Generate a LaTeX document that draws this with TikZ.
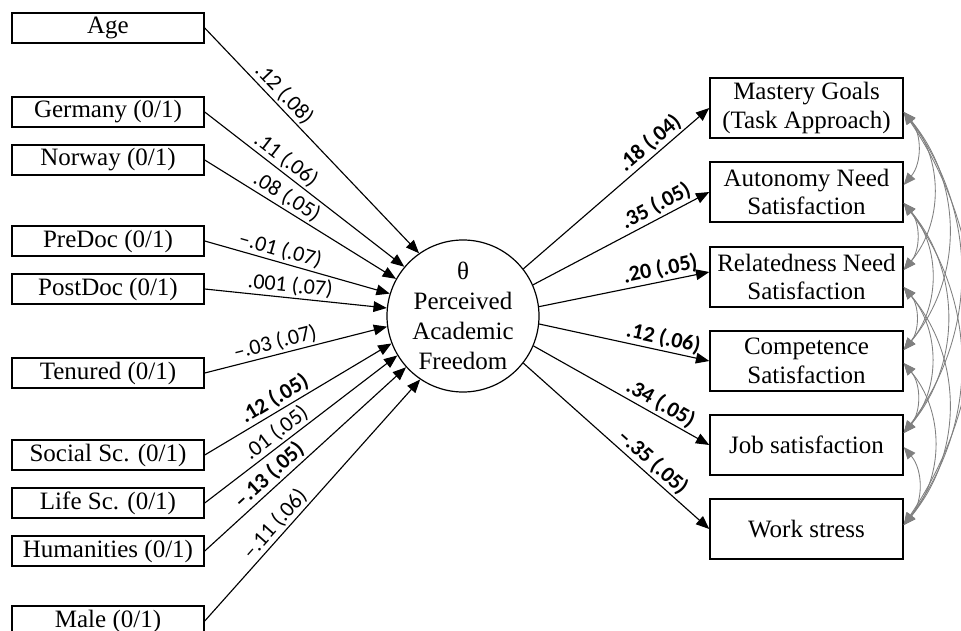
\documentclass[tikz,border=0pt]{standalone}
\usepackage{fontspec}
\setmainfont{Liberation Serif}
\newfontfamily\labfont{Carlito}
\usetikzlibrary{arrows.meta,calc}
\begin{document}
\begin{tikzpicture}[x=0.75pt,y=-0.75pt,
  lbox/.style={draw,line width=1.1pt,minimum width=144pt,minimum height=22.5pt,inner sep=0pt,font=\fontsize{18.75}{22}\selectfont},
  rbox/.style={draw,line width=1.1pt,minimum width=144.75pt,minimum height=45pt,inner sep=0pt,align=center,font=\fontsize{18.75}{21.5}\selectfont},
  lat/.style={draw,circle,line width=0.9pt,minimum size=114pt,inner sep=0pt,align=center,font=\fontsize{18.75}{22.5}\selectfont},
  reg/.style={line width=0.85pt,-{Triangle[length=10pt,width=8pt]}},
  cov/.style={draw=gray,line width=0.65pt,{Triangle[length=9pt,width=7.5pt]}-{Triangle[length=9pt,width=7.5pt]}},
  lab/.style={font=\labfont\fontsize{16.5}{18}\selectfont,sloped,above,inner sep=1.5pt},
  labb/.style={font=\labfont\bfseries\fontsize{16.5}{18}\selectfont,sloped,above,inner sep=1.5pt}
]
\useasboundingbox (0,0) rectangle (961,631);

% left boxes
\node[lbox] (age) at (108,28) {Age};
\node[lbox] (ger) at (108,112) {Germany (0/1)};
\node[lbox] (nor) at (108,160) {Norway (0/1)};
\node[lbox] (pre) at (108,241) {PreDoc (0/1)};
\node[lbox] (post) at (108,289) {PostDoc (0/1)};
\node[lbox] (ten) at (108,373) {Tenured (0/1)};
\node[lbox] (soc) at (108,455) {Social Sc. (0/1)};
\node[lbox] (life) at (108,503) {Life Sc. (0/1)};
\node[lbox] (hum) at (108,551) {Humanities (0/1)};
\node[lbox] (male) at (108,621) {Male (0/1)};

% latent
\node[lat] (c) at (463,316) {θ\\Perceived\\Academic\\Freedom};

% right boxes
\node[rbox] (r1) at (806.5,108) {Mastery Goals\\(Task Approach)};
\node[rbox] (r2) at (806.5,192) {Autonomy Need\\Satisfaction};
\node[rbox] (r3) at (806.5,277) {Relatedness Need\\Satisfaction};
\node[rbox] (r4) at (806.5,361) {Competence\\Satisfaction};
\node[rbox] (r5) at (806.5,445) {Job satisfaction};
\node[rbox] (r6) at (806.5,529) {Work stress};

% predictor paths
\draw[reg] (age.east) -- (c.125) node[lab,pos=0.33]{.12 (.08)};
\draw[reg] (ger.east) -- (c.140) node[lab,pos=0.371]{.11 (.06)};
\draw[reg] (nor.east) -- (c.151) node[lab,pos=0.397]{.08 (.05)};
\draw[reg] (pre.east) -- (c.163) node[lab,pos=0.391]{–.01 (.07)};
\draw[reg] (post.east) -- (c.174) node[lab,pos=0.463]{.001 (.07)};
\draw[reg] (ten.east) -- (c.188.5) node[lab,pos=0.402]{–.03 (.07)};
\draw[reg] (soc.east) -- (c.201) node[labb,pos=0.407]{.12 (.05)};
\draw[reg] (life.east) -- (c.211) node[lab,pos=0.409]{.01 (.05)};
\draw[reg] (hum.east) -- (c.222) node[labb,pos=0.361]{–.13 (.05)};
\draw[reg] (male.east) -- (c.236) node[lab,pos=0.367]{–.11 (.06)};

% outcome paths
\draw[reg] (c.38) -- (r1.west) node[labb,pos=0.723]{.18 (.04)};
\draw[reg] (c.24) -- (r2.west) node[labb,pos=0.730]{.35 (.05)};
\draw[reg] (c.7) -- ($(r3.west)+(0,-5)$) node[labb,pos=0.727]{.20 (.05)};
\draw[reg] (c.-6) -- (r4.west) node[labb,pos=0.715]{.12 (.06)};
\draw[reg] (c.-23) -- (r5.west) node[labb,pos=0.689]{.34 (.05)};
\draw[reg] (c.-38) -- (r6.west) node[labb,pos=0.652]{–.35 (.05)};

% covariance anchor points
\coordinate (p1) at ($(r1.east)+(0,4)$);
\coordinate (a2u) at ($(r2.east)+(0,-7)$);
\coordinate (a2d) at ($(r2.east)+(0,11)$);
\coordinate (a3u) at ($(r3.east)+(0,-7)$);
\coordinate (a3d) at ($(r3.east)+(0,10)$);
\coordinate (a4u) at ($(r4.east)+(0,-11)$);
\coordinate (a4d) at ($(r4.east)+(0,2)$);
\coordinate (a5u) at ($(r5.east)+(0,-12)$);
\coordinate (a5d) at ($(r5.east)+(0,2)$);
\coordinate (p6) at ($(r6.east)+(0,-4)$);

% covariances
\draw[cov] (p1) to[bend left=40] (a2u);
\draw[cov] (p1) to[bend left=40] (a3u);
\draw[cov] (p1) to[bend left=40] (a4u);
\draw[cov] (p1) to[bend left=37] (a5u);
\draw[cov] (p1) to[bend left=34] (p6);
\draw[cov] (a2d) to[bend left=40] (a3u);
\draw[cov] (a2d) to[bend left=40] (a4u);
\draw[cov] (a2d) to[bend left=40] (a5u);
\draw[cov] (a2d) to[bend left=37] (p6);
\draw[cov] (a3d) to[bend left=40] (a4u);
\draw[cov] (a3d) to[bend left=40] (a5u);
\draw[cov] (a3d) to[bend left=40] (p6);
\draw[cov] (a4d) to[bend left=40] (a5u);
\draw[cov] (a4d) to[bend left=40] (p6);
\draw[cov] (a5d) to[bend left=40] (p6);
\end{tikzpicture}
\end{document}
